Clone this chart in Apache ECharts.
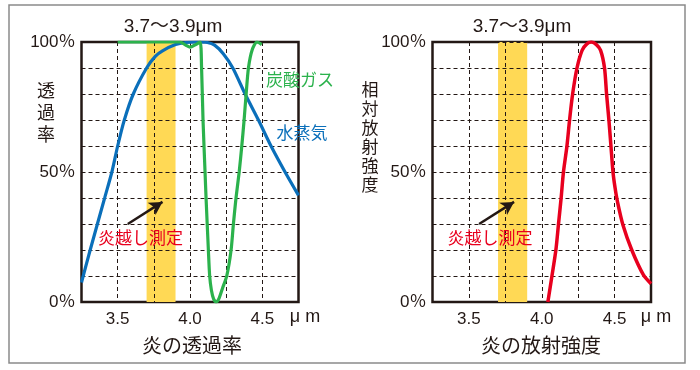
<!DOCTYPE html>
<html>
<head>
<meta charset="utf-8">
<script src="https://cdn.jsdelivr.net/npm/echarts@6/dist/echarts.min.js"></script>
<style>html,body{margin:0;padding:0;background:#fff}#c{width:700px;height:370px}</style>
</head>
<body>
<div id="c"></div>
<script>
// wavelength (μm), percent
const waterVapor = [[3.25,7.5],[3.31,20],[3.41,40],[3.46,50],[3.50,60],[3.546,70],[3.608,80],[3.70,90],[3.76,94.5],[3.81,96.6],[3.90,99],[3.97,99.8],[4.05,100],[4.12,99.8],[4.17,98.8],[4.23,95.5],[4.296,90],[4.381,80],[4.473,70],[4.56,60],[4.657,50],[4.75,41]];
const co2 = [[3.5,100],[3.93,100],[3.97,98.8],[4.0,98],[4.04,99],[4.07,100],[4.08,90],[4.09,70],[4.104,50],[4.111,40],[4.127,20],[4.136,10],[4.148,4.5],[4.163,1.2],[4.18,0],[4.2,1.3],[4.226,5.5],[4.254,10],[4.284,20],[4.30,30],[4.318,40],[4.34,50],[4.358,60],[4.374,70],[4.388,80],[4.404,90],[4.43,97],[4.463,100],[4.496,99]];
const flameEmission = [[4.042,0],[4.07,10],[4.097,20],[4.115,30],[4.133,40],[4.149,50],[4.173,60],[4.191,70],[4.212,80],[4.242,90],[4.277,96.8],[4.31,99.3],[4.341,100],[4.375,99],[4.404,96.8],[4.431,90],[4.445,80],[4.461,70],[4.475,60],[4.489,50],[4.503,44],[4.52,38.5],[4.558,29.5],[4.618,20],[4.697,10.5],[4.75,7]];
const measureBand = [3.7, 3.9];
const arrowFrom = [3.57, 30];
const arrowTo = [3.81, 38.5];
const xTickLabels = [3.5, 4.0, 4.5];
const yTickLabels = [0, 50, 100];
const bandLabel = '3.7〜3.9μm';
const titles = ['炎の透過率', '炎の放射強度'];
const yNames = ['透過率', '相対放射強度'];

const INK = '#231815';
const FONT = '"Liberation Sans", "Noto Sans CJK JP", sans-serif';
const JFONT = '"Noto Sans CJK JP", sans-serif';

function xAxisFor(i) {
  return {
    type: 'value', gridIndex: i, min: 3.25, max: 4.75, interval: 0.25, z: 2,
    axisLine: {show: false}, axisTick: {show: false},
    axisLabel: {
      margin: 9, fontSize: 17, color: INK, fontFamily: FONT,
      formatter: v => xTickLabels.some(t => Math.abs(t - v) < 1e-6) ? v.toFixed(1) : ''
    },
    splitLine: {show: true, lineStyle: {color: INK, width: 1, type: [4, 3]}}
  };
}
function yAxisFor(i) {
  return {
    type: 'value', gridIndex: i, min: 0, max: 100, interval: 10, z: 2,
    axisLine: {show: false}, axisTick: {show: false},
    axisLabel: {
      margin: 6, fontSize: 17, color: INK, fontFamily: FONT,
      formatter: v => yTickLabels.indexOf(Math.round(v)) >= 0 ? Math.round(v) + '％' : ''
    },
    splitLine: {show: true, lineStyle: {color: INK, width: 1, type: [4, 3]}}
  };
}
function bandSeries(i) {
  return {
    type: 'line', xAxisIndex: i, yAxisIndex: i, data: [], z: 1, silent: true,
    markArea: {silent: true, itemStyle: {color: '#ffd955'}, data: [[{xAxis: measureBand[0]}, {xAxis: measureBand[1]}]]},
    markLine: {
      silent: true, symbol: ['none', 'arrow'], symbolSize: [11, 13], z: 5,
      label: {show: false},
      lineStyle: {color: INK, width: 2.5, type: 'solid'},
      data: [[{coord: arrowFrom}, {coord: arrowTo}]]
    }
  };
}
function curve(i, data, color, w) {
  return {type: 'line', xAxisIndex: i, yAxisIndex: i, data: data, z: 3, smooth: 0.25,
    showSymbol: false, silent: true, lineStyle: {color: color, width: w}};
}

const chart = echarts.init(document.getElementById('c'), null, {renderer: 'canvas'});
function txt(x, y, text, size, color, family, lineHeight) {
  const style = {text: text, fontSize: size, fill: color, fontFamily: family || JFONT, align: 'center', verticalAlign: 'middle'};
  if (lineHeight) style.lineHeight = lineHeight;
  return {type: 'text', x: x, y: y, z: 100, silent: true, style: style};
}

chart.setOption({
  animation: false,
  grid: [
    {left: 81.5, top: 42, width: 217, height: 260, show: true, borderColor: INK, borderWidth: 2.5, backgroundColor: 'transparent'},
    {left: 432.5, top: 42, width: 218.5, height: 260, show: true, borderColor: INK, borderWidth: 2.5, backgroundColor: 'transparent'}
  ],
  xAxis: [xAxisFor(0), xAxisFor(1)],
  yAxis: [yAxisFor(0), yAxisFor(1)],
  series: [
    bandSeries(0), bandSeries(1),
    curve(0, waterVapor, '#0a6fba', 3.2),
    curve(0, co2, '#2bb24c', 3.2),
    curve(1, flameEmission, '#e8001e', 3.5)
  ],
  graphic: [
    {type: 'rect', silent: true, shape: {x: 9, y: 5, width: 676, height: 358}, style: {fill: 'none', stroke: '#8a8a8a', lineWidth: 1.5}},
    txt(173, 27, bandLabel, 19, INK, FONT),
    txt(522, 27, bandLabel, 19, INK, FONT),
    txt(305, 317, 'μ m', 18, INK, FONT),
    txt(656, 317, 'μ m', 18, INK, FONT),
    txt(192, 345, titles[0], 20, INK),
    txt(541, 345, titles[1], 20, INK),
    txt(46, 112, yNames[0].split('').join('\n'), 18, INK, JFONT, 22),
    txt(370, 137, yNames[1].split('').join('\n'), 17, INK, JFONT, 19),
    txt(300, 80, '炭酸ガス', 17, '#2bb24c'),
    txt(302, 133, '水蒸気', 17, '#0a6fba'),
    txt(140.5, 238, '炎越し測定', 17, '#e8001e'),
    txt(490, 238, '炎越し測定', 17, '#e8001e')
  ]
});
</script>
</body>
</html>
